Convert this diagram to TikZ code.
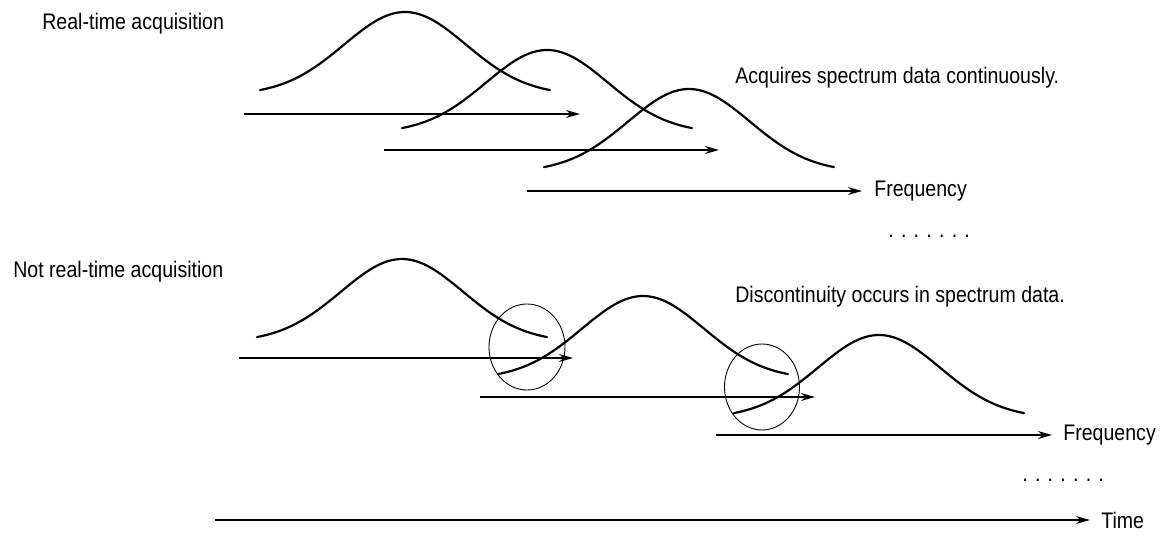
\documentclass[tikz,border=0pt]{standalone}
\usepackage{fontspec}
\setmainfont{Liberation Sans}[FakeStretch=0.87]
\usetikzlibrary{arrows.meta, positioning}

\begin{document}
\begin{tikzpicture}[x=0.02cm, y=-0.02cm,
      axis/.style={-{Stealth[length=8pt, width=4.5pt]}, line width=0.7pt},
      hump/.style={line width=1.25pt, line join=round, line cap=round},
      ring/.style={line width=0.5pt},
      lbl/.style={anchor=west, inner sep=0pt, font=\fontsize{12.8}{14}\selectfont}]
   \useasboundingbox (0,0) rectangle (1167,537);
   % Captions
   \node[lbl] (rtcap) at (42,24) {Real-time acquisition};
   \node[lbl] (nrtcap) at (13,272) {Not real-time acquisition};
   \node[lbl] (rtnote) at (735,78) {Acquires spectrum data continuously.};
   \node[lbl] (nrtnote) at (735,297) {Discontinuity occurs in spectrum data.};
   % Frequency axes (one per acquisition)
   \foreach \n/\xs/\xe/\yy in {1/244/580/114, 2/384/719/150, 3/527/862/191,
                               4/239/573/358, 5/480/815/397, 6/716/1052/435} {
      \coordinate (f\n s) at (\xs,\yy);
      \coordinate (f\n e) at (\xe,\yy);
      \draw[axis] (f\n s) -- (f\n e);
   }
   \node[lbl, right=0.24cm of f3e] (freqtop) {Frequency};
   \node[lbl, right=0.22cm of f6e] (freqbot) {Frequency};
   % Spectrum curves
   % y = base + 5 - 83 exp(-x^2/(2*61^2)), x in [-145,145]
   \foreach \cx/\by in {405/90, 547/128, 689/167, 402/337, 643/374, 879/413}
      \draw[hump] plot[domain=-145:145, samples=70, smooth]
         ({\cx+\x}, {\by+5-83*exp(-0.5*(\x/61)*(\x/61))});
   % Gaps in the data
   \draw[ring] (527,347) ellipse [x radius=38, y radius=43];
   \draw[ring] (762,387) ellipse [x radius=37.5, y radius=43];
   % More acquisitions follow
   \node[lbl] (moretop) at (888,236) {. . . . . . .};
   \node[lbl] (morebot) at (1022,480) {. . . . . . .};
   % Time axis
   \coordinate (ts) at (215,520);
   \coordinate (te) at (1090,520);
   \draw[axis] (ts) -- (te);
   \node[lbl, right=0.22cm of te] (timelbl) {Time};
\end{tikzpicture}
\end{document}
